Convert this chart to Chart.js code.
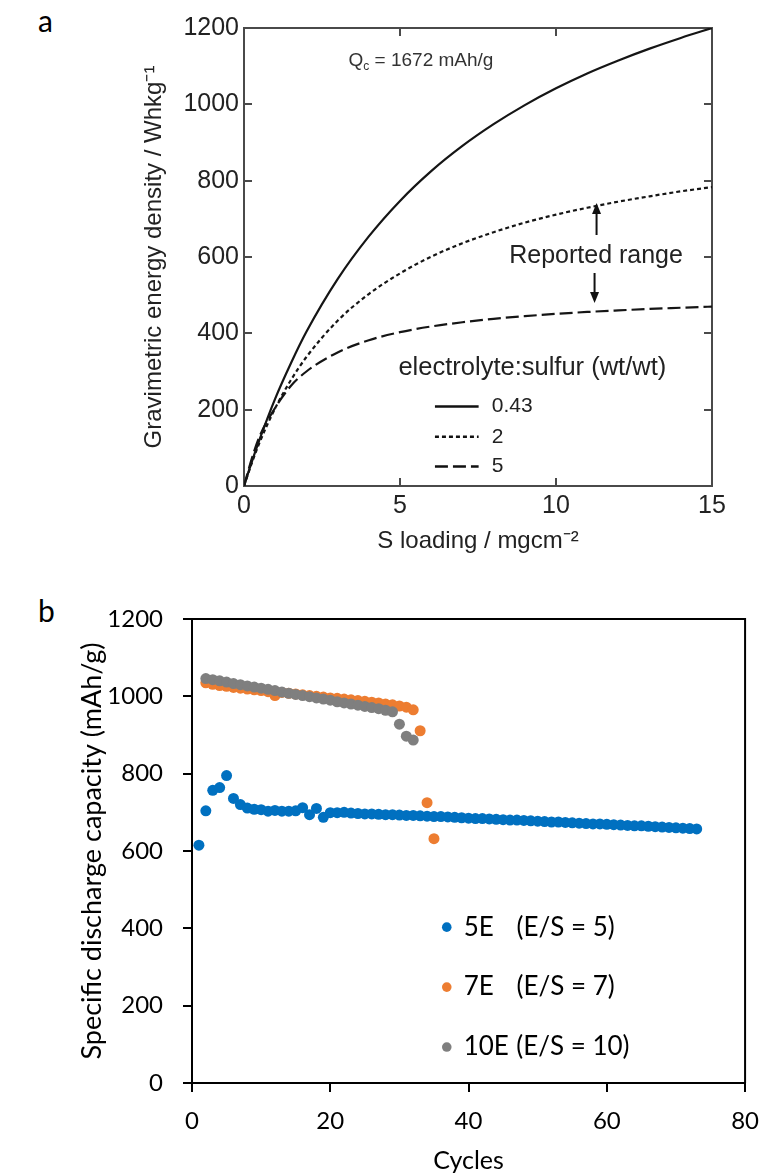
<!DOCTYPE html>
<html>
<head>
<meta charset="utf-8">
<script src="https://cdn.jsdelivr.net/npm/chart.js@4.4.1/dist/chart.umd.min.js"></script>
<style>
  html, body { margin: 0; padding: 0; background: #fff; }
  body { width: 774px; height: 1175px; position: relative; overflow: hidden; }
  .panel-label { position: absolute; font-family: Lato, "Open Sans", sans-serif; font-size: 30px; line-height: 1; color: #000; }
  #wrapA { position: absolute; left: 0; top: 0; width: 774px; height: 570px; }
  #wrapB { position: absolute; left: 0; top: 570px; width: 774px; height: 605px; }
  canvas { display: block; }
</style>
</head>
<body>
<div class="panel-label" style="left:38px; top:5px;">a</div>
<div class="panel-label" style="left:38px; top:595px;">b</div>
<div id="wrapA"><canvas id="chartA" width="774" height="570"></canvas></div>
<div id="wrapB"><canvas id="chartB" width="774" height="605"></canvas></div>

<script>
// ---------- Panel a: energy density vs. sulfur loading ----------
const sulfurLoading = [0, 0.25, 0.5, 1, 1.5, 2, 3, 4, 5, 6, 7, 8, 9, 10, 11, 12, 13, 14, 15];
const energyRatio043 = [0, 63, 122, 229, 321, 404, 542, 654, 747, 825, 891, 948, 998, 1042, 1081, 1115, 1146, 1174, 1200];
const energyRatio2   = [0, 60, 114, 204, 277, 338, 433, 503, 557, 601, 636, 665, 690, 711, 729, 745, 759, 772, 783];
const energyRatio5   = [0, 72, 130, 205, 262, 300, 350, 382, 403, 418, 429, 438, 445, 451, 456, 460, 464, 467, 470];
const ratioLabels = ['0.43', '2', '5'];
const loadingTicks = [0, 5, 10, 15];
const energyTicks = [0, 200, 400, 600, 800, 1000, 1200];

// ---------- Panel b: discharge capacity vs. cycle ----------
const firstCycle5E = 1;
const capacity5E = [615, 704, 757, 764, 795, 736, 720, 711, 708, 707, 703, 705, 703, 703, 704, 712, 694, 710, 687,
  699, 699, 700, 698, 697, 696, 696, 695, 694, 694, 693, 692, 692, 691, 690, 689, 689, 688, 687, 686, 685,
  684, 684, 683, 682, 681, 680, 680, 679, 678, 677, 676, 675, 675, 674, 673, 672, 671, 670, 670, 669,
  668, 667, 666, 665, 665, 664, 663, 662, 661, 660, 659, 658, 657];
const firstCycle7E = 2;
const capacity7E = [1035, 1031, 1028, 1026, 1023, 1021, 1019, 1017, 1015, 1012, 1002, 1010, 1008, 1006, 1004,
  1002, 1000, 998, 996, 995, 993, 991, 989, 987, 985, 983, 980, 978, 975, 972, 965, 911, 725, 632];
const firstCycle10E = 2;
const capacity10E = [1046, 1043, 1040, 1037, 1033, 1030, 1027, 1024, 1021, 1018, 1015, 1011, 1008, 1005, 1002,
  999, 996, 993, 990, 986, 983, 980, 977, 974, 971, 968, 964, 960, 928, 897, 887];
const seriesNames = ['5E', '7E', '10E'];
const seriesRatios = ['(E/S = 5)', '(E/S = 7)', '(E/S = 10)'];
const seriesColors = ['#0070C0', '#ED7D31', '#7F7F7F'];
const cycleTicks = [0, 20, 40, 60, 80];
const capacityTicks = [0, 200, 400, 600, 800, 1000, 1200];

const ARIAL = '"Liberation Sans", Arial, sans-serif';
const SANS_B = 'Lato, "Open Sans", sans-serif';
const plainNumber = v => String(v);

function toPoints(xs, ys) { return xs.map((x, i) => ({ x: x, y: ys[i] })); }
function cyclePoints(start, ys) { return ys.map((v, i) => ({ x: start + i, y: v })); }

// ---------------- Chart A ----------------
const inkA = '#222';
const axisA = '#4a4a4a';
const dashStyles = [[], [4, 3], [13, 5]];

const annotationsA = {
  id: 'annotationsA',
  afterDraw(chart) {
    const { ctx, scales: { x, y } } = chart;
    ctx.save();
    ctx.fillStyle = '#333';
    ctx.textBaseline = 'middle';
    ctx.textAlign = 'left';

    // capacity note with subscript
    let px = x.getPixelForValue(3.35);
    const py = y.getPixelForValue(1113);
    ctx.font = '19px ' + ARIAL;
    ctx.fillText('Q', px, py);
    px += ctx.measureText('Q').width;
    ctx.font = '12px ' + ARIAL;
    ctx.fillText('c', px, py + 5);
    px += ctx.measureText('c').width;
    ctx.font = '19px ' + ARIAL;
    ctx.fillText(' = 1672 mAh/g', px, py);

    // reported range
    ctx.fillStyle = inkA;
    ctx.font = '25px ' + ARIAL;
    ctx.fillText('Reported range', x.getPixelForValue(8.5), y.getPixelForValue(602));

    // arrows
    ctx.strokeStyle = '#111';
    ctx.fillStyle = '#111';
    ctx.lineWidth = 2;
    const ax = x.getPixelForValue(11.3);
    const arrow = (x0, yFrom, yTo) => {
      const dir = Math.sign(yTo - yFrom);
      ctx.beginPath();
      ctx.moveTo(x0, yFrom);
      ctx.lineTo(x0, yTo - dir * 8);
      ctx.stroke();
      ctx.beginPath();
      ctx.moveTo(x0, yTo);
      ctx.lineTo(x0 - 4.5, yTo - dir * 11);
      ctx.lineTo(x0 + 4.5, yTo - dir * 11);
      ctx.closePath();
      ctx.fill();
    };
    arrow(ax, 235, 203);
    arrow(ax - 2, 273, 303);

    // legend
    ctx.fillStyle = inkA;
    ctx.font = '25.5px ' + ARIAL;
    ctx.fillText('electrolyte:sulfur (wt/wt)', x.getPixelForValue(4.95), y.getPixelForValue(310));
    const rows = [208, 129, 51];
    ctx.font = '21px ' + ARIAL;
    ctx.strokeStyle = '#111';
    ctx.lineWidth = 2.5;
    rows.forEach((v, i) => {
      const ly = y.getPixelForValue(v);
      ctx.setLineDash(dashStyles[i]);
      ctx.beginPath();
      ctx.moveTo(x.getPixelForValue(6.12), ly);
      ctx.lineTo(x.getPixelForValue(7.52), ly);
      ctx.stroke();
      ctx.setLineDash([]);
      ctx.fillText(ratioLabels[i], x.getPixelForValue(7.94), ly);
    });
    ctx.restore();
  }
};

const plotA = { left: 244, top: 22, right: 712, bottom: 486 };
const canvasAHeight = 570;

new Chart(document.getElementById('chartA'), {
  type: 'line',
  data: {
    datasets: [energyRatio043, energyRatio2, energyRatio5].map((vals, i) => ({
      label: ratioLabels[i],
      data: toPoints(sulfurLoading, vals),
      borderColor: '#151515',
      borderWidth: 2.2,
      borderDash: dashStyles[i],
      pointRadius: 0,
      fill: false,
      cubicInterpolationMode: 'monotone'
    }))
  },
  options: {
    responsive: false,
    animation: false,
    events: [],
    layout: { padding: { left: 0, top: plotA.top, right: 774 - plotA.right, bottom: 0 } },
    plugins: { legend: { display: false }, tooltip: { enabled: false } },
    scales: {
      x: {
        type: 'linear', position: 'bottom', min: 0, max: 15,
        afterBuildTicks: s => { s.ticks = loadingTicks.map(v => ({ value: v })); },
        ticks: { font: { family: ARIAL, size: 25 }, color: inkA, padding: 13, maxRotation: 0, callback: plainNumber },
        grid: { drawOnChartArea: false, tickLength: -8, color: axisA, lineWidth: 2 },
        border: { color: axisA, width: 2 },
        title: { display: true, text: 'S loading / mgcm⁻²', font: { family: ARIAL, size: 24 }, color: inkA, padding: { top: 0, bottom: 14 } },
        afterFit: s => { s.height = canvasAHeight - plotA.bottom; }
      },
      xTop: {
        type: 'linear', position: 'top', min: 0, max: 15,
        afterBuildTicks: s => { s.ticks = loadingTicks.map(v => ({ value: v })); },
        ticks: { display: false },
        grid: { drawOnChartArea: false, tickLength: -8, color: axisA, lineWidth: 2 },
        border: { color: axisA, width: 2 },
        afterFit: s => { s.height = 0; }
      },
      y: {
        type: 'linear', position: 'left', min: 0, max: 1200,
        afterBuildTicks: s => { s.ticks = energyTicks.map(v => ({ value: v })); },
        ticks: { font: { family: ARIAL, size: 25 }, color: inkA, padding: 13, callback: plainNumber },
        grid: { drawOnChartArea: false, tickLength: -8, color: axisA, lineWidth: 2 },
        border: { color: axisA, width: 2 },
        title: { display: true, text: 'Gravimetric energy density / Whkg⁻¹', font: { family: ARIAL, size: 24 }, color: inkA, padding: { top: 140, bottom: 0 } },
        afterFit: s => { s.width = plotA.left; }
      },
      yRight: {
        type: 'linear', position: 'right', min: 0, max: 1200,
        afterBuildTicks: s => { s.ticks = energyTicks.map(v => ({ value: v })); },
        ticks: { display: false },
        grid: { drawOnChartArea: false, tickLength: -8, color: axisA, lineWidth: 2 },
        border: { color: axisA, width: 2 },
        afterFit: s => { s.width = 0; }
      }
    }
  },
  plugins: [annotationsA]
});

// ---------------- Chart B ----------------
const plotB = { left: 192, top: 619 - 570, right: 758, bottom: 1083 - 570 };
const canvasBHeight = 605;

const frameAndLegendB = {
  id: 'frameAndLegendB',
  afterDraw(chart) {
    const { ctx, chartArea: a, scales: { x, y } } = chart;
    ctx.save();
    // closing frame on top and right
    ctx.strokeStyle = '#000';
    ctx.lineWidth = 2;
    ctx.beginPath();
    ctx.moveTo(a.left, a.top);
    ctx.lineTo(a.right, a.top);
    ctx.lineTo(a.right, a.bottom);
    ctx.stroke();

    // legend inside the plot
    const rowValues = [403, 248, 93];
    ctx.textBaseline = 'middle';
    ctx.textAlign = 'left';
    ctx.font = '26px ' + SANS_B;
    rowValues.forEach((v, i) => {
      const ly = y.getPixelForValue(v);
      const mx = x.getPixelForValue(36.85);
      ctx.fillStyle = seriesColors[i];
      ctx.beginPath();
      ctx.arc(mx, ly, 4.8, 0, Math.PI * 2);
      ctx.fill();
      ctx.fillStyle = '#000';
      ctx.fillText(seriesNames[i], x.getPixelForValue(39.3), ly);
      ctx.fillText(seriesRatios[i], x.getPixelForValue(i === 2 ? 46.9 : 46.95), ly);
    });
    ctx.restore();
  }
};

new Chart(document.getElementById('chartB'), {
  type: 'scatter',
  data: {
    datasets: [
      { label: seriesNames[0], data: cyclePoints(firstCycle5E, capacity5E), backgroundColor: seriesColors[0], order: 2 },
      { label: seriesNames[1], data: cyclePoints(firstCycle7E, capacity7E), backgroundColor: seriesColors[1], order: 1 },
      { label: seriesNames[2], data: cyclePoints(firstCycle10E, capacity10E), backgroundColor: seriesColors[2], order: 0 }
    ].map(d => Object.assign(d, { pointRadius: 5.5, borderWidth: 0, pointStyle: 'circle' }))
  },
  options: {
    responsive: false,
    animation: false,
    events: [],
    layout: { padding: { left: 0, top: plotB.top, right: 774 - plotB.right, bottom: 0 } },
    plugins: { legend: { display: false }, tooltip: { enabled: false } },
    scales: {
      x: {
        type: 'linear', min: 0, max: 80,
        afterBuildTicks: s => { s.ticks = cycleTicks.map(v => ({ value: v })); },
        ticks: { font: { family: SANS_B, size: 24 }, color: '#000', padding: 15, callback: plainNumber },
        grid: { drawOnChartArea: false, tickLength: 9, color: '#000', lineWidth: 2 },
        border: { color: '#000', width: 2 },
        title: { display: true, text: 'Cycles', font: { family: SANS_B, size: 25, lineHeight: 1 }, color: '#000', padding: { top: 0, bottom: 2 } },
        afterFit: s => { s.height = canvasBHeight - plotB.bottom; }
      },
      y: {
        type: 'linear', min: 0, max: 1200,
        afterBuildTicks: s => { s.ticks = capacityTicks.map(v => ({ value: v })); },
        ticks: { font: { family: SANS_B, size: 24 }, color: '#000', padding: 20, callback: plainNumber },
        grid: { drawOnChartArea: false, tickLength: 9, color: '#000', lineWidth: 2 },
        border: { color: '#000', width: 2 },
        title: { display: true, text: 'Specific discharge capacity (mAh/g)', font: { family: SANS_B, size: 27, lineHeight: 1 }, color: '#000', padding: { top: 79, bottom: 0 } },
        afterFit: s => { s.width = plotB.left; }
      }
    }
  },
  plugins: [frameAndLegendB]
});
</script>
</body>
</html>
